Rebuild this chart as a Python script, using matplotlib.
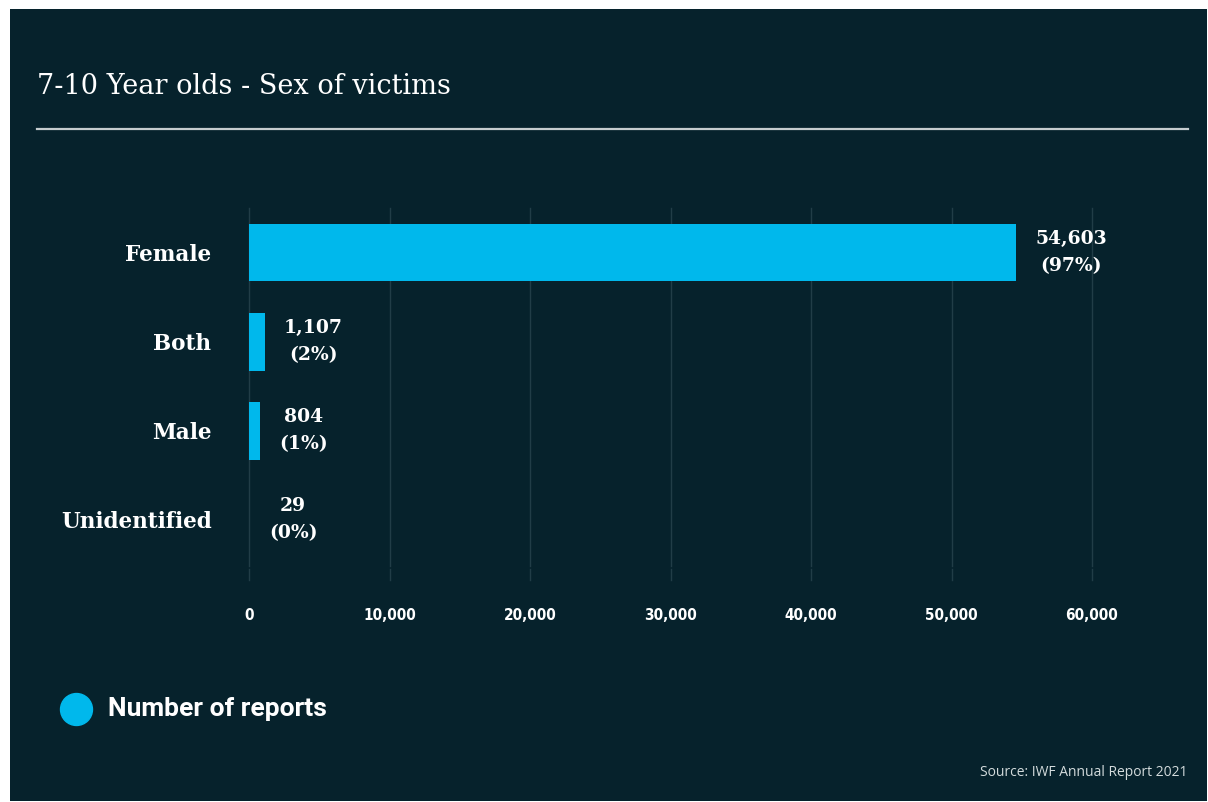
import matplotlib
matplotlib.use("Agg")
import matplotlib.pyplot as plt
from matplotlib.lines import Line2D
from matplotlib.patches import Rectangle
from matplotlib.ticker import FuncFormatter

categories = ["Female", "Both", "Male", "Unidentified"]
reports = [54603, 1107, 804, 29]
shares = ["97%", "2%", "1%", "0%"]
x_ticks = [0, 10000, 20000, 30000, 40000, 50000, 60000]

title = "7-10 Year olds - Sex of victims"
legend_label = "Number of reports"
source = "Source: IWF Annual Report 2021"

BG = "#06222c"
BAR = "#00b8ec"
GRID = "#213d47"
TEXT = "#ffffff"

W, H = 1208, 802
fig = plt.figure(figsize=(W / 100, H / 100), dpi=100, facecolor="white")


def fx(px):
    return px / W


def fy(py):
    return 1 - py / H


# dark card behind everything
fig.add_artist(Rectangle((fx(10), fy(801)), fx(1197), (801 - 9) / H,
                         transform=fig.transFigure, facecolor=BG,
                         edgecolor="none", zorder=0))

fig.text(fx(37), fy(86), title, fontsize=19.5, family="DejaVu Serif",
         color=TEXT, va="center", ha="left")
fig.add_artist(Line2D([fx(37), fx(1188)], [fy(129), fy(129)],
                      transform=fig.transFigure, color="#c5cdcf", lw=1.6))

ax = fig.add_axes([fx(249), fy(566), fx(1092 - 249), (566 - 208) / H])
ax.set_facecolor("none")
pos = list(range(len(categories)))
ax.barh(pos, reports, height=0.65, color=BAR, zorder=3)
ax.set_xlim(0, 60000)
ax.set_ylim(len(categories) - 0.48, -0.5)

ax.set_xticks(x_ticks)
ax.xaxis.set_major_formatter(FuncFormatter(lambda v, _: f"{int(v):,}"))
ax.grid(axis="x", color=GRID, lw=1, zorder=0)
for gl in ax.get_xgridlines():
    gl.set_clip_on(False)
ax.tick_params(axis="x", colors=GRID, length=0, pad=30, labelcolor=TEXT)
for lbl in ax.get_xticklabels():
    lbl.set_fontsize(11)
    lbl.set_fontweight("bold")
    lbl.set_fontstretch("condensed")
    lbl.set_family("DejaVu Sans")

# short tick marks sitting just under the grid, with a small gap
tick_tf = ax.get_xaxis_transform()
for t in x_ticks:
    ax.add_line(Line2D([t, t], [-0.008, -0.04], transform=tick_tf,
                       color=GRID, lw=1, clip_on=False))

ax.set_yticks(pos)
ax.set_yticklabels(categories, fontsize=15.5, fontweight="bold",
                   family="DejaVu Serif", color=TEXT)
ax.tick_params(axis="y", length=0, pad=27)
for side in ax.spines.values():
    side.set_visible(False)

# value and share labels to the right of each bar
for p, val, share in zip(pos, reports, shares):
    ax.annotate(f"{val:,}\n({share})", xy=(val, p), xytext=(14, 0),
                textcoords="offset points", ha="left", va="center",
                multialignment="center", fontsize=13.5, fontweight="bold",
                family="DejaVu Serif", color=TEXT, linespacing=1.65)

fig.add_artist(Line2D([fx(76)], [fy(709)], transform=fig.transFigure,
                      marker="o", markersize=23, color=BAR, lw=0))
fig.text(fx(108), fy(709), legend_label, fontsize=19, fontweight="bold",
         family="Roboto", color=TEXT, va="center", ha="left")

fig.text(fx(1188), fy(773), source, fontsize=10, family="Open Sans",
         color="#d3dbdc", va="center", ha="right")

fig.savefig("out.png", dpi=100, facecolor="white")
